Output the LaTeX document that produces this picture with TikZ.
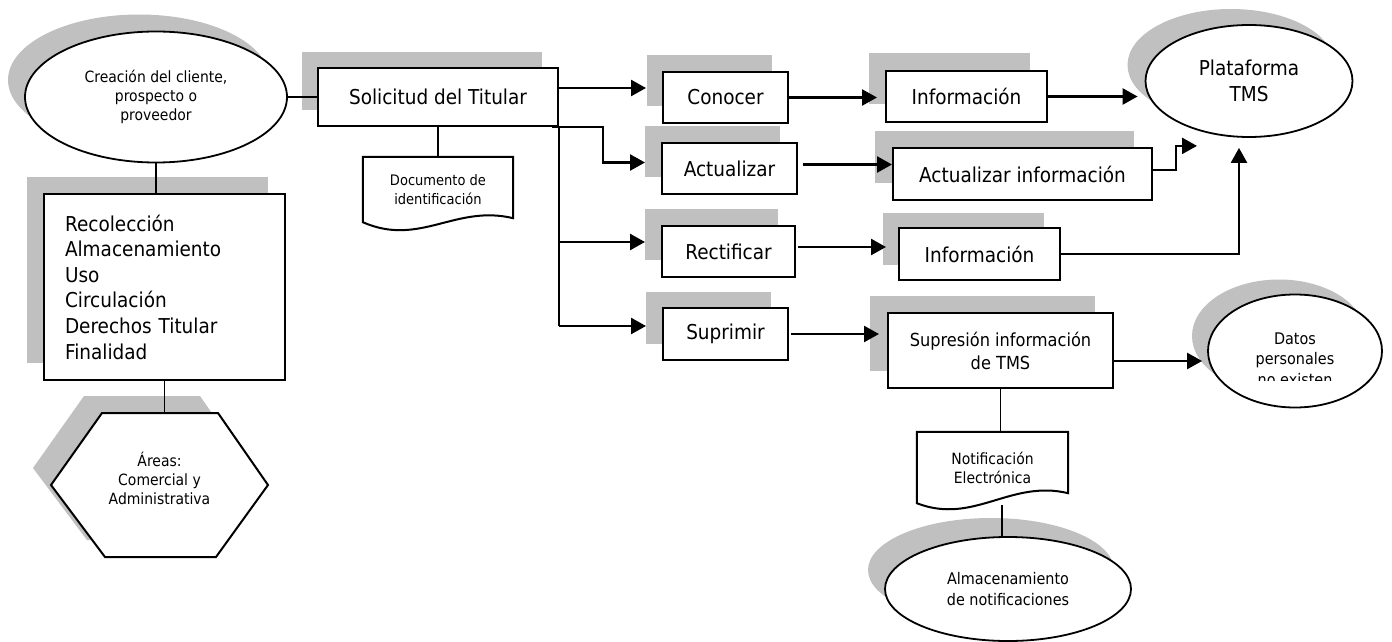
\documentclass[tikz,border=0pt]{standalone}
\usepackage{fontspec}
\setmainfont{DejaVu Sans}[FakeStretch=0.9]
\usetikzlibrary{arrows.meta,shapes.geometric,shadows,calc}
\definecolor{shadowgray}{RGB}{192,192,192}
\tikzset{
  shad/.style 2 args={drop shadow={shadow xshift=#1,shadow yshift=#2,fill=shadowgray,opacity=1}},
  box/.style={draw=black,line width=2pt,fill=white,inner sep=0pt,align=center},
  oval/.style={ellipse,draw=black,line width=1.8pt,fill=white,inner sep=0pt,align=center},
  big/.style={font=\fontsize{20.5}{25.6}\selectfont},
  mid/.style={font=\fontsize{18}{23}\selectfont},
  small/.style={font=\fontsize{15.5}{19}\selectfont},
  tiny/.style={font=\fontsize{14.5}{19}\selectfont},
  arr/.style={line width=2.5pt,-{Triangle[length=15pt,width=16pt]}},
  link/.style={line width=1.8pt},
  wire/.style={line width=2.5pt},
  docline/.style={line width=2pt,line join=miter},
}
\begin{document}
\begin{tikzpicture}[x=1pt,y=-1pt]
\fill[white] (0,0) rectangle (1392,642);
\useasboundingbox (0,0) rectangle (1392,642);

% left column
\node[oval,small,shad={-17pt}{17pt},minimum width=262pt,minimum height=131pt] (crea) at (156,97)
  {Creación del cliente,\\prospecto o\\proveedor};
\node[box,big,shad={-17pt}{17pt},minimum width=241pt,minimum height=186pt,text width=199pt,align=left] (rec) at (164.5,287)
  {Recolección\\Almacenamiento\\Uso\\Circulación\\Derechos Titular\\Finalidad};

% hexagon for the areas
\coordinate (hexc) at (159.5,485);
\coordinate (hextop) at ($(hexc)+(0,-72)$);
\fill[shadowgray] ($(hexc)+(-126.5,-17)$) -- ($(hexc)+(-75.5,-89)$) -- ($(hexc)+(40.5,-89)$)
  -- ($(hexc)+(90.5,-17)$) -- ($(hexc)+(38.5,55)$) -- ($(hexc)+(-72.5,55)$) -- cycle;
\draw[docline,fill=white] ($(hexc)+(-108.5,0)$) -- ($(hexc)+(-57.5,-72)$) -- ($(hexc)+(58.5,-72)$)
  -- ($(hexc)+(108.5,0)$) -- ($(hexc)+(56.5,72)$) -- ($(hexc)+(-54.5,72)$) -- cycle;
\node[small,align=center] (areas) at ($(hexc)+(0,-7)$) {Áreas:\\Comercial y\\Administrativa};

% request
\node[box,big,shad={-16pt}{16pt},minimum width=240pt,minimum height=58pt] (sol) at (438,97) {Solicitud del Titular};
\node[tiny,align=center,minimum width=150pt,minimum height=65pt,inner sep=0pt] (doc1) at (438,189.5)
  {Documento de\\identificación};
\draw[docline] (doc1.north west) -- (doc1.north east) -- ($(doc1.south east)+(0,-4)$)
  .. controls ($(doc1.south east)+(-58,-18)$) and ($(doc1.south west)+(57,25)$) .. (doc1.south west) -- cycle;

% rights
\node[box,big,shad={-16pt}{17pt},minimum width=125pt,minimum height=51pt] (con) at (725.5,97.5) {Conocer};
\node[box,big,shad={-17pt}{17pt},minimum width=135pt,minimum height=51pt] (act) at (729.5,168.5) {Actualizar};
\node[box,big,shad={-17pt}{17pt},minimum width=133pt,minimum height=51pt] (rect) at (728.5,251.5) {Rectificar};
\node[box,big,shad={-17pt}{16pt},minimum width=125pt,minimum height=52pt] (sup) at (725.5,334) {Suprimir};

% results
\node[box,big,shad={-17pt}{18pt},minimum width=161pt,minimum height=51pt] (inf1) at (966.5,96.5) {Información};
\node[box,big,shad={-18pt}{17pt},minimum width=259pt,minimum height=52pt] (actinf) at (1022.5,174) {Actualizar información};
\node[box,big,shad={-16pt}{15pt},minimum width=161pt,minimum height=52pt] (inf2) at (979.5,254) {Información};
\node[box,mid,shad={-18pt}{17pt},minimum width=225pt,minimum height=75pt] (supr) at (1000.5,350.5)
  {Supresión información\\de TMS};

\node[oval,big,shad={-18pt}{16pt},minimum width=207pt,minimum height=112pt] (plat) at (1249,81) {Plataforma\\TMS};
\node[oval,shad={-16pt}{15pt},minimum width=174pt,minimum height=113pt] (datos) at (1295,351) {};
\begin{scope}
  \clip ($(datos.center)+(-90,-60)$) rectangle ($(datos.center)+(90,29)$);
  \node[font=\fontsize{16}{20.5}\selectfont,align=center] (datostxt) at ($(datos.center)+(0,8)$)
    {Datos\\personales\\no existen};
\end{scope}

% notification
\node[small,align=center,minimum width=151pt,minimum height=71pt,inner sep=0pt] (notif) at (992.5,467.5)
  {Notificación\\Electrónica};
\draw[docline] (notif.north west) -- (notif.north east) -- ($(notif.south east)+(0,-10)$)
  .. controls ($(notif.south east)+(-58,-24)$) and ($(notif.south west)+(57,22)$) .. (notif.south west) -- cycle;
\node[oval,font=\fontsize{16}{21}\selectfont,shad={-17pt}{19pt},minimum width=246pt,minimum height=104pt] (alm) at (1008,589)
  {Almacenamiento\\de notificaciones};

% plain links
\draw[link] (crea.east) -- (sol.west);
\draw[link] (crea.south) -- (crea.south |- rec.north);
\draw[link] (rec.south) -- (rec.south |- hextop);
\draw[link] (sol.south) -- (sol.south |- doc1.north);
\draw[link] (supr.south) -- (supr.south |- notif.north);
\coordinate (notifB) at ($(notif.south)+(9.5,2)$);
\draw[link] (notifB) -- (notifB |- alm.north);

% branching from the request
\coordinate (conIn) at ($(con.west)+(-16,-9.5)$);
\coordinate (actIn) at ($(act.west)+(-16,-6)$);
\coordinate (rectIn) at ($(rect.west)+(-16,-9.5)$);
\coordinate (supIn) at ($(sup.west)+(-16,-8)$);
\draw[arr] (sol.east |- conIn) -- (conIn);
\draw[arr] ([xshift=-7pt]sol.south east) -- ++(51,0) |- (actIn);
\draw[wire] (sol.south east) -- (sol.south east |- supIn);
\draw[arr] (sol.south east |- rectIn) -- (rectIn);
\draw[arr] (sol.south east |- supIn) -- (supIn);

% second column
\coordinate (inf1In) at ($(inf1.west)+(-8,0)$);
\coordinate (actA) at ($(act.east)+(5,-4)$);
\coordinate (rectA) at ($(rect.east)+(2,-4.5)$);
\coordinate (inf2In) at ($(inf2.west)+(-12,0)$);
\coordinate (supA) at ($(sup.east)+(2,0)$);
\coordinate (suprIn) at ($(supr.west)+(-8,0)$);
\draw[arr] (con.east) -- (con.east -| inf1In);
\draw[arr] (actA) -- (actA -| actinf.west);
\draw[arr] (rectA) -- (rectA -| inf2In);
\draw[arr] (supA) -- (supA -| suprIn);

% into the platform
\coordinate (platIn1) at ($(plat.west)+(-7,0)$);
\coordinate (platIn2) at ($(plat.south)+(-52,8)$);
\coordinate (platIn3) at ($(plat.south)+(-10,10)$);
\draw[arr] (inf1.east) -- (inf1.east -| platIn1);
\draw[arr] ($(actinf.east)+(0,-4)$) -- ++(23,0) |- (platIn2);
\draw[arr] (inf2.east) -| (platIn3);

% deletion result
\coordinate (datosIn) at ($(datos.west)+(-5,10)$);
\draw[arr] (datosIn -| supr.east) -- (datosIn);
\end{tikzpicture}
\end{document}
